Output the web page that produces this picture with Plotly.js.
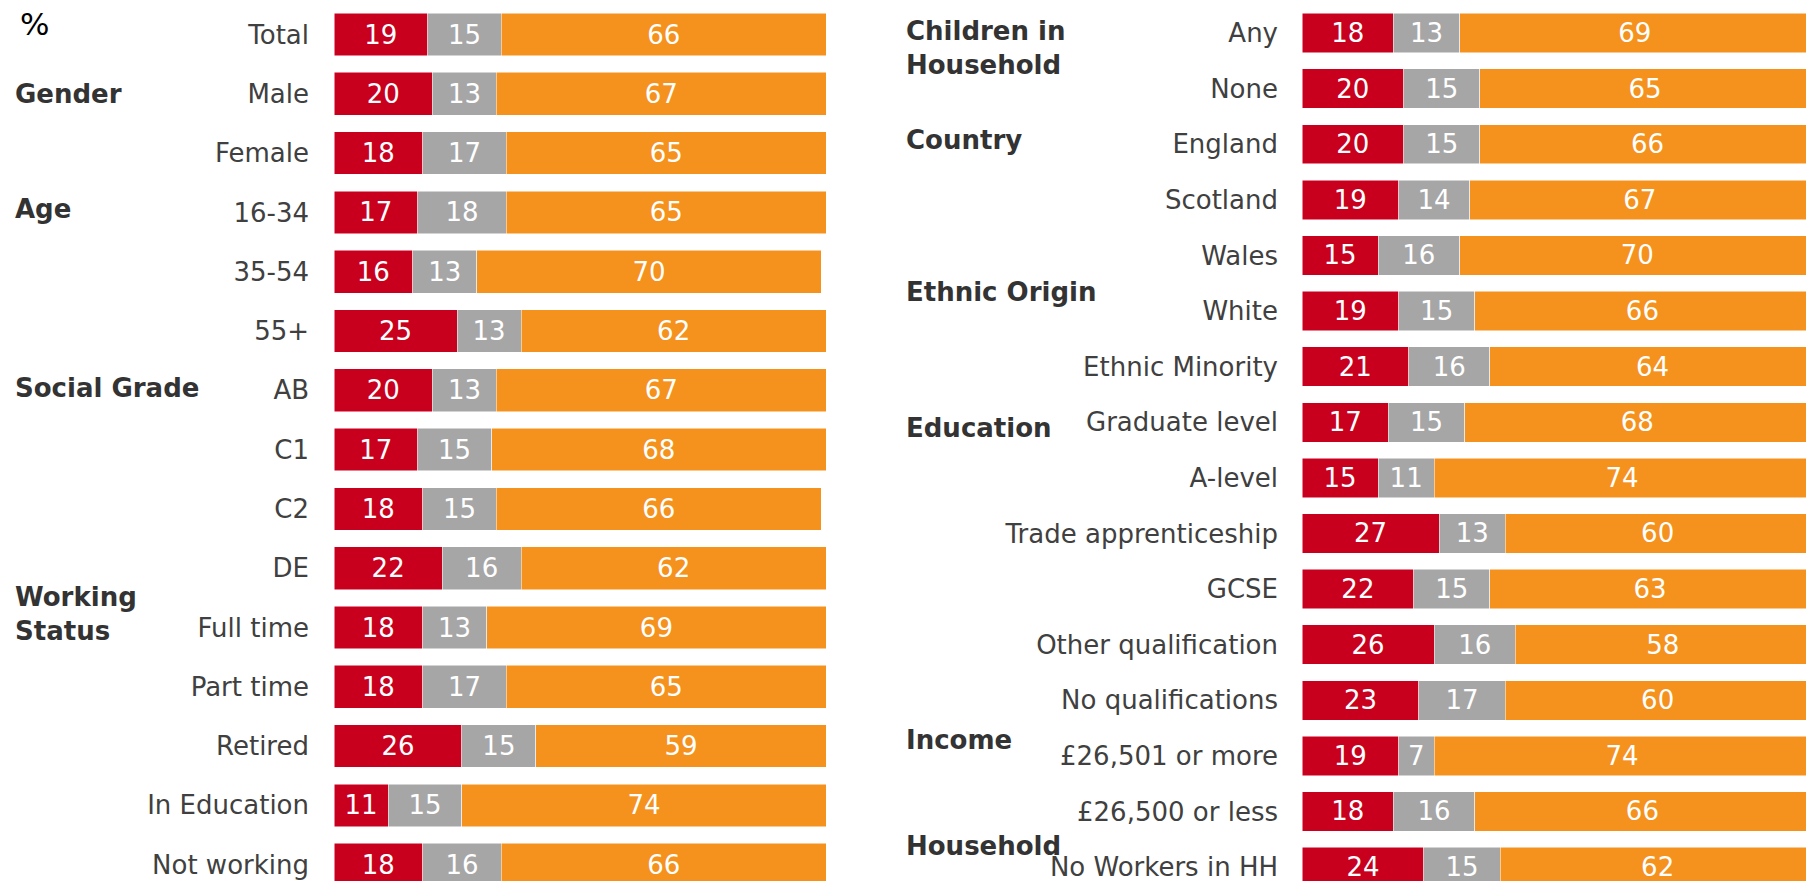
<!DOCTYPE html>
<html>
<head>
<meta charset="utf-8">
<script src="https://cdn.plot.ly/plotly-3.0.1.min.js"></script>
<style>
  html, body { margin: 0; padding: 0; background: #fff; }
  #chart { width: 1806px; height: 881px; }
</style>
</head>
<body>
<div id="chart"></div>
<script>
// Left panel
const leftCats = ['Total', 'Male', 'Female', '16-34', '35-54', '55+', 'AB', 'C1', 'C2', 'DE',
                  'Full time', 'Part time', 'Retired', 'In Education', 'Not working'];
const leftRed    = [19, 20, 18, 17, 16, 25, 20, 17, 18, 22, 18, 18, 26, 11, 18];
const leftGrey   = [15, 13, 17, 18, 13, 13, 13, 15, 15, 16, 13, 17, 15, 15, 16];
const leftOrange = [66, 67, 65, 65, 70, 62, 67, 68, 66, 62, 69, 65, 59, 74, 66];

// Right panel
const rightCats = ['Any', 'None', 'England', 'Scotland', 'Wales', 'White', 'Ethnic Minority',
                   'Graduate level', 'A-level', 'Trade apprenticeship', 'GCSE', 'Other qualification',
                   'No qualifications', '£26,501 or more', '£26,500 or less', 'No Workers in HH'];
const rightRed    = [18, 20, 20, 19, 15, 19, 21, 17, 15, 27, 22, 26, 23, 19, 18, 24];
const rightGrey   = [13, 15, 15, 14, 16, 15, 16, 15, 11, 13, 15, 16, 17, 7, 16, 15];
const rightOrange = [69, 65, 66, 67, 70, 66, 64, 68, 74, 60, 63, 58, 60, 74, 66, 62];

// Group headings: [text, x px, y px]
const leftGroups = [['Gender', 13, 94], ['Age', 13, 209], ['Social Grade', 13, 388],
                    ['Working<br>Status', 13, 614]];
const rightGroups = [['Children in<br>Household', 904, 48], ['Country', 904, 140],
                     ['Ethnic Origin', 904, 292], ['Education', 904, 428],
                     ['Income', 904, 740], ['Household', 904, 846]];

const W = 1806, H = 881;
const RED = '#C8001E', GREY = '#A6A6A6', ORANGE = '#F5921E';
const FONT = 'DejaVu Sans, Verdana, sans-serif';

function seg(cats, vals, color, xa, ya, width) {
    return {
        type: 'bar',
        orientation: 'h',
        y: cats,
        x: vals,
        xaxis: xa,
        yaxis: ya,
        width: width,
        text: vals.map(String),
        textposition: 'inside',
        insidetextanchor: 'middle',
        constraintext: 'none',
        textangle: 0,
        textfont: {color: '#ffffff', size: 26, family: FONT},
        marker: {color: color, line: {color: '#ffffff', width: 0.5}},
        hoverinfo: 'skip',
        showlegend: false
    };
}

var data = [
    seg(leftCats, leftRed, RED, 'x', 'y', 0.72),
    seg(leftCats, leftGrey, GREY, 'x', 'y', 0.72),
    seg(leftCats, leftOrange, ORANGE, 'x', 'y', 0.72),
    seg(rightCats, rightRed, RED, 'x2', 'y2', 0.71),
    seg(rightCats, rightGrey, GREY, 'x2', 'y2', 0.71),
    seg(rightCats, rightOrange, ORANGE, 'x2', 'y2', 0.71)
];

var annotations = [];
leftGroups.concat(rightGroups).forEach(function (g) {
    annotations.push({
        xref: 'paper', yref: 'paper',
        x: g[1] / W, y: 1 - g[2] / H,
        xanchor: 'left', yanchor: 'middle', align: 'left',
        text: '<b>' + g[0] + '</b>',
        showarrow: false,
        font: {family: FONT, size: 26, color: '#333333'}
    });
});
annotations.push({
    xref: 'paper', yref: 'paper',
    x: 18 / W, y: 1 - 24 / H,
    xanchor: 'left', yanchor: 'middle',
    text: '%', showarrow: false,
    font: {family: FONT, size: 31, color: '#000000'}
});

const layout = {
    width: W,
    height: H,
    margin: {l: 0, r: 0, t: 0, b: 0},
    paper_bgcolor: '#ffffff',
    plot_bgcolor: '#ffffff',
    barmode: 'stack',
    bargap: 0,
    showlegend: false,
    font: {family: FONT, size: 26, color: '#404040'},
    xaxis: {domain: [334 / W, 840 / W], range: [0, 102.8], visible: false, fixedrange: true},
    yaxis: {anchor: 'x', domain: [0, 1], type: 'category',
            range: [14.275, -0.582], showgrid: false, zeroline: false, showline: false,
            ticks: '', ticklabelstandoff: 24, fixedrange: true,
            tickfont: {family: FONT, size: 26, color: '#404040'}},
    xaxis2: {domain: [1302 / W, 1], range: [0, 99.2], visible: false, fixedrange: true},
    yaxis2: {anchor: 'x2', domain: [0, 1], type: 'category',
             range: [15.25, -0.594], showgrid: false, zeroline: false, showline: false,
             ticks: '', ticklabelstandoff: 23, fixedrange: true,
             tickfont: {family: FONT, size: 26, color: '#404040'}},
    annotations: annotations
};

Plotly.newPlot('chart', data, layout, {displayModeBar: false, staticPlot: true});
</script>
</body>
</html>
